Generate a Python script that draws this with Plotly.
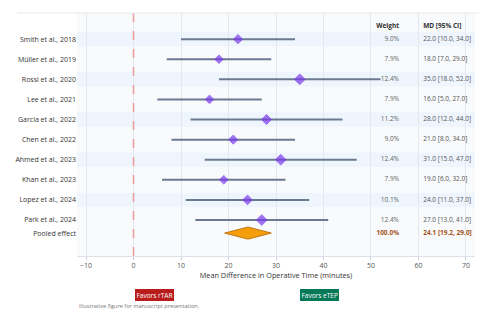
import plotly.graph_objects as go

studies = ["Smith et al., 2018", "Müller et al., 2019", "Rossi et al., 2020", "Lee et al., 2021",
           "Garcia et al., 2022", "Chen et al., 2022", "Ahmed et al., 2023", "Khan et al., 2023",
           "Lopez et al., 2024", "Park et al., 2024"]
md = [22.0, 18.0, 35.0, 16.0, 28.0, 21.0, 31.0, 19.0, 24.0, 27.0]
lo = [10.0, 7.0, 18.0, 5.0, 12.0, 8.0, 15.0, 6.0, 11.0, 13.0]
hi = [34.0, 29.0, 52.0, 27.0, 44.0, 34.0, 47.0, 32.0, 37.0, 41.0]
weights = [9.0, 7.9, 12.4, 7.9, 11.2, 9.0, 12.4, 7.9, 10.1, 12.4]
pooled_label = "Pooled effect"
pooled_md, pooled_lo, pooled_hi = 24.1, 19.2, 29.0
pooled_weight = 100.0
x_ticks = [-10, 0, 10, 20, 30, 40, 50, 60, 70]

n = len(studies)
ys = [n + 1 - i for i in range(n)]  # 11 .. 2
y_pool = 1.35
y_head = 11.65
x_w = 55.9
x_md = 61.0

fig = go.Figure()

# alternating bands
shapes = []
for i, y in enumerate(ys):
    if i % 2 == 0:
        shapes.append(dict(type="rect", xref="paper", yref="y", x0=0, x1=1, y0=y - 0.36, y1=y + 0.36,
                           fillcolor="#eef5fd", line_width=0, layer="below"))
# zero line
shapes.append(dict(type="line", xref="x", yref="paper", x0=0, x1=0, y0=0, y1=1,
                   line=dict(color="#ec9a9c", width=1.5, dash="dash")))
# top rule
shapes.append(dict(type="line", xref="paper", yref="paper", x0=-0.15, x1=1.01, y0=1, y1=1,
                   line=dict(color="#e6e8ec", width=1)))
fig.update_layout(shapes=shapes)

# CI lines
for y, l, h in zip(ys, lo, hi):
    fig.add_trace(go.Scatter(x=[l, h], y=[y, y], mode="lines",
                             line=dict(color="#6b7a90", width=2), hoverinfo="skip", showlegend=False))

# point estimates
fig.add_trace(go.Scatter(x=md, y=ys, mode="markers",
                         marker=dict(symbol="diamond", color="#7c3aed",
                                     size=[3.8 + w * 0.36 for w in weights],
                                     line=dict(color="#7c3aed", width=1)),
                         showlegend=False))

# pooled diamond
fig.add_trace(go.Scatter(x=[pooled_lo, pooled_md, pooled_hi, pooled_md, pooled_lo],
                         y=[y_pool, y_pool + 0.3, y_pool, y_pool - 0.3, y_pool],
                         mode="lines", fill="toself", fillcolor="#f59e0b",
                         line=dict(color="#c2760a", width=1), showlegend=False))

# weight column
fig.add_trace(go.Scatter(x=[x_w] * n, y=ys, mode="text",
                         text=[f"{w:.1f}%" for w in weights], textposition="middle left",
                         textfont=dict(size=6.5, color="#666"), showlegend=False))
fig.add_trace(go.Scatter(x=[x_md] * n, y=ys, mode="text",
                         text=[f"{m:.1f} [{a:.1f}, {b:.1f}]" for m, a, b in zip(md, lo, hi)],
                         textposition="middle right",
                         textfont=dict(size=6.5, color="#555"), showlegend=False))
# pooled text
fig.add_trace(go.Scatter(x=[x_w], y=[y_pool], mode="text",
                         text=[f"<b>{pooled_weight:.1f}%</b>"], textposition="middle left",
                         textfont=dict(size=6.5, color="#a5521a"), showlegend=False))
fig.add_trace(go.Scatter(x=[x_md], y=[y_pool], mode="text",
                         text=[f"<b>{pooled_md:.1f} [{pooled_lo:.1f}, {pooled_hi:.1f}]</b>"],
                         textposition="middle right",
                         textfont=dict(size=6.5, color="#a5521a"), showlegend=False))
# headers
fig.add_trace(go.Scatter(x=[x_w], y=[y_head], mode="text", text=["<b>Weight</b>"],
                         textposition="middle left", textfont=dict(size=6.5, color="#333"),
                         showlegend=False))
fig.add_trace(go.Scatter(x=[x_md], y=[y_head], mode="text", text=["<b>MD [95% CI]</b>"],
                         textposition="middle right", textfont=dict(size=6.5, color="#333"),
                         showlegend=False))

fig.update_layout(
    width=492, height=331,
    margin=dict(l=77, r=17, t=13, b=75),
    paper_bgcolor="white", plot_bgcolor="#f8fafc",
    font=dict(family="Open Sans, Verdana, Arial", size=7, color="#333"),
    xaxis=dict(range=[-11.9, 71.9], tickvals=x_ticks, ticks="outside", ticklen=3,
               tickcolor="#c8ccd4", showgrid=True, gridcolor="#e3e8f0", gridwidth=1,
               zeroline=False, showline=True, linecolor="#dde2ea",
               tickfont=dict(size=7, color="#555"),
               title=dict(text="Mean Difference in Operative Time (minutes)",
                          font=dict(size=7.3, color="#333"), standoff=2)),
    yaxis=dict(range=[0.21, 12.3], tickvals=ys + [y_pool], ticktext=studies + [pooled_label],
               showgrid=False, zeroline=False, ticks="", tickfont=dict(size=7, color="#333")),
    annotations=[
        dict(text="Favors rTAR", xref="paper", yref="paper", x=0.194, y=-0.16,
             xanchor="center", yanchor="middle", showarrow=False,
             font=dict(size=6.5, color="white"), bgcolor="#b91c1c", borderpad=1.5,
             bordercolor="#b91c1c", borderwidth=0),
        dict(text="Favors eTEP", xref="paper", yref="paper", x=0.61, y=-0.16,
             xanchor="center", yanchor="middle", showarrow=False,
             font=dict(size=6.5, color="white"), bgcolor="#047857", borderpad=1.5,
             bordercolor="#047857", borderwidth=0),
        dict(text="Illustrative figure for manuscript presentation.", xref="paper", yref="paper",
             x=0, y=-0.206, xanchor="left", yanchor="middle", showarrow=False,
             font=dict(size=5.6, color="#777")),
    ],
)

fig.write_html("out.html")
